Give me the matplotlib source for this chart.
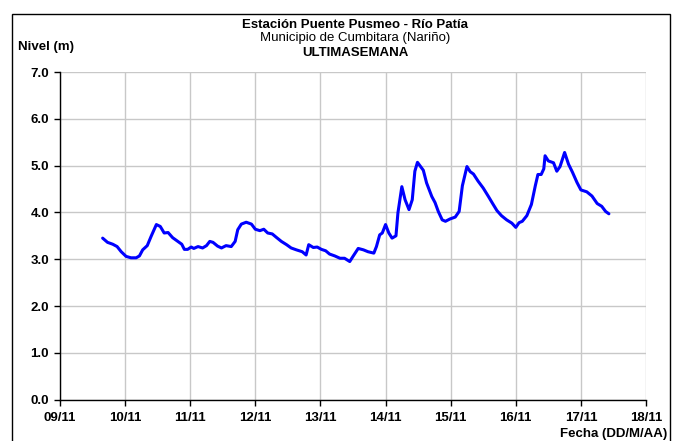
import numpy as np
import matplotlib
matplotlib.use('Agg')
import matplotlib.pyplot as plt
from matplotlib.patches import Rectangle

plt.rcParams['font.family'] = ['Liberation Sans', 'DejaVu Sans']

# Time in days since 09/11 00:00, river level in metres
dias = [0.655, 0.73, 0.81, 0.877, 0.94, 1.015, 1.09, 1.17, 1.22, 1.27, 1.34, 1.40,
        1.48, 1.54, 1.60, 1.66, 1.73, 1.81, 1.87, 1.91, 1.96, 2.015, 2.055, 2.12,
        2.19, 2.25, 2.30, 2.35, 2.42, 2.48, 2.55, 2.63, 2.69, 2.73, 2.785, 2.86,
        2.94, 3.0, 3.07, 3.13, 3.19, 3.26, 3.32, 3.40, 3.48, 3.55, 3.63, 3.72,
        3.78, 3.82, 3.89, 3.95, 4.015, 4.08, 4.14, 4.22, 4.30, 4.37, 4.45, 4.50,
        4.58, 4.66, 4.73, 4.82, 4.86, 4.91, 4.95, 5.0, 5.05, 5.10, 5.16, 5.19,
        5.25, 5.30, 5.36, 5.41, 5.45, 5.49, 5.58, 5.63, 5.71, 5.76, 5.81, 5.87,
        5.92, 5.99, 6.07, 6.13, 6.18, 6.25, 6.30, 6.35, 6.42, 6.50, 6.58, 6.64,
        6.71, 6.78, 6.86, 6.94, 7.0, 7.05, 7.10, 7.17, 7.24, 7.30, 7.34, 7.39,
        7.43, 7.45, 7.50, 7.58, 7.63, 7.68, 7.75, 7.81, 7.87, 7.94, 8.0, 8.09,
        8.17, 8.25, 8.32, 8.38, 8.43]
nivel = [3.45, 3.36, 3.32, 3.27, 3.16, 3.06, 3.03, 3.03, 3.07, 3.20, 3.29, 3.49,
         3.74, 3.70, 3.56, 3.57, 3.46, 3.38, 3.32, 3.21, 3.21, 3.26, 3.23, 3.27,
         3.24, 3.29, 3.38, 3.36, 3.28, 3.24, 3.29, 3.27, 3.38, 3.63, 3.75, 3.79,
         3.75, 3.64, 3.61, 3.64, 3.56, 3.54, 3.47, 3.38, 3.31, 3.24, 3.20, 3.16,
         3.09, 3.31, 3.25, 3.26, 3.21, 3.18, 3.11, 3.07, 3.02, 3.02, 2.95, 3.06,
         3.23, 3.20, 3.16, 3.13, 3.27, 3.52, 3.56, 3.74, 3.56, 3.45, 3.50, 3.99,
         4.55, 4.27, 4.06, 4.27, 4.88, 5.07, 4.90, 4.63, 4.34, 4.21, 4.02, 3.84,
         3.81, 3.86, 3.90, 4.02, 4.57, 4.98, 4.87, 4.82, 4.67, 4.52, 4.34, 4.20,
         4.04, 3.93, 3.84, 3.77, 3.68, 3.78, 3.81, 3.93, 4.17, 4.57, 4.81, 4.81,
         4.93, 5.21, 5.10, 5.06, 4.88, 4.98, 5.28, 5.03, 4.86, 4.64, 4.48, 4.44,
         4.35, 4.19, 4.13, 4.02, 3.97]

fechas = ['09/11', '10/11', '11/11', '12/11', '13/11', '14/11', '15/11',
          '16/11', '17/11', '18/11']
niveles = [0.0, 1.0, 2.0, 3.0, 4.0, 5.0, 6.0, 7.0]

W, H = 674, 441
fig = plt.figure(figsize=(W / 100, H / 100), dpi=100)

# outer chart frame
fig.patches.append(Rectangle((12 / W, -0.05), 658 / W, 1.05 - 14 / H,
                             transform=fig.transFigure, fill=False,
                             edgecolor='black', linewidth=1.0))

ax = fig.add_axes([60 / W, (H - 399.6) / H, 586 / W, 327.6 / H])
ax.plot(dias, nivel, color='#0000ff', linewidth=2.2, solid_joinstyle='round',
        solid_capstyle='round', zorder=3)

ax.set_xlim(0, 9)
ax.set_ylim(0, 7)
ax.set_xticks(np.arange(len(fechas)))
ax.set_xticklabels(fechas)
ax.set_yticks(niveles)
ax.set_yticklabels([f'{v:.1f}' for v in niveles])

ax.grid(True, color='#c8c8c8', linewidth=1.0, zorder=0)
for side in ['top', 'right']:
    ax.spines[side].set_visible(False)
for side in ['left', 'bottom']:
    ax.spines[side].set_color('black')
    ax.spines[side].set_linewidth(1.0)
    ax.spines[side].set_zorder(4)

ax.tick_params(direction='out', length=4, width=1, color='black',
               labelsize=9.5, pad=4)
for lab in ax.get_xticklabels() + ax.get_yticklabels():
    lab.set_fontweight('bold')
ax.tick_params(axis='x', pad=5)

cx = 355 / W
fig.text(cx, 1 - 25 / H, 'Estación Puente Pusmeo - Río Patía', ha='center',
         va='center', fontsize=9.5, fontweight='bold')
fig.text(cx, 1 - 38.5 / H, 'Municipio de Cumbitara (Nariño)', ha='center',
         va='center', fontsize=9.5)
fig.text(cx, 1 - 52.5 / H, 'ULTIMASEMANA', ha='center', va='center',
         fontsize=9.5, fontweight='bold')
fig.text(18 / W, 1 - 47 / H, 'Nivel (m)', ha='left', va='center',
         fontsize=9.5, fontweight='bold')
fig.text(667 / W, 1 - 434 / H, 'Fecha (DD/M/AA)', ha='right', va='center',
         fontsize=9.5, fontweight='bold')

fig.savefig('out.png', dpi=100)
